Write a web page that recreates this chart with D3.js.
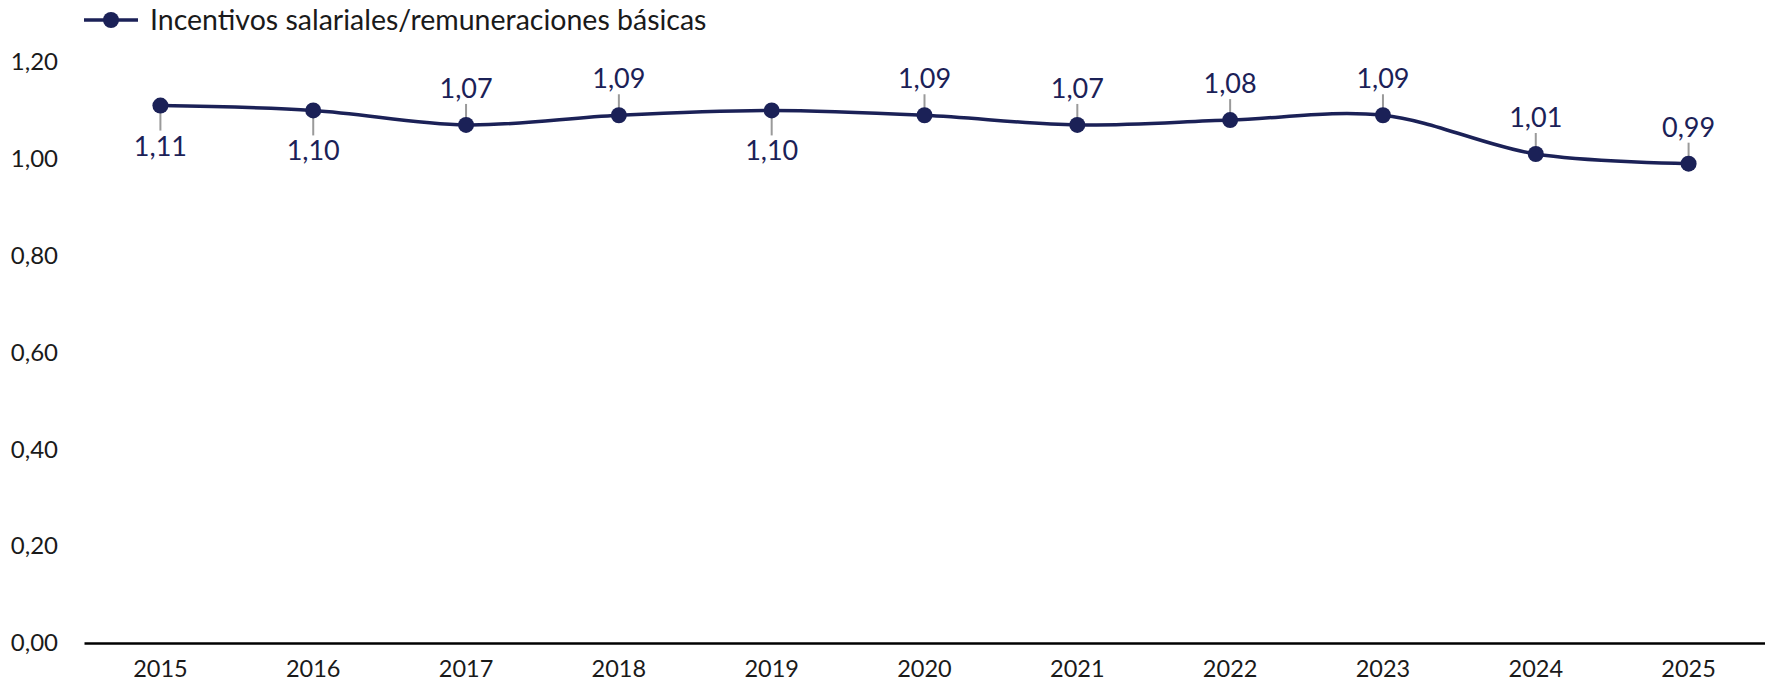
<!DOCTYPE html>
<html>
<head>
<meta charset="utf-8">
<script src="https://cdn.jsdelivr.net/npm/d3@7"></script>
<style>
  body { margin: 0; background: #fff; }
  text { font-family: Lato, "Open Sans", sans-serif; }
</style>
</head>
<body>
<div class="canvas"></div>
<script>
// chart data
const years = ['2015', '2016', '2017', '2018', '2019', '2020', '2021', '2022', '2023', '2024', '2025'];
const ratios = [1.11, 1.10, 1.07, 1.09, 1.10, 1.09, 1.07, 1.08, 1.09, 1.01, 0.99];
const labelBelow = [true, true, false, false, true, false, false, false, false, false, false];
const yTicks = [0, 0.2, 0.4, 0.6, 0.8, 1.0, 1.2];
const seriesName = 'Incentivos salariales/remuneraciones básicas';

const navy = '#1b2157';
const width = 1765, height = 684;
const margin = {top: 62, right: 0, bottom: 41, left: 84};
const graphWidth = width - margin.left - margin.right;
const graphHeight = height - margin.top - margin.bottom;

const svg = d3.select('.canvas')
  .append('svg')
    .attr('width', width)
    .attr('height', height);

const graph = svg.append('g')
  .attr('transform', `translate(${margin.left}, ${margin.top})`);

const x = d3.scaleBand()
  .domain(years)
  .range([0, graphWidth]);

const y = d3.scaleLinear()
  .domain([0, 1.2])
  .range([graphHeight, 0]);

const fmt = d => d3.format('.2f')(d).replace('.', ',');

// y axis labels (no line)
const yAxis = d3.axisLeft(y).tickValues(yTicks).tickFormat(fmt).tickSize(0).tickPadding(26);
const yAxisGroup = graph.append('g').call(yAxis);
yAxisGroup.select('.domain').remove();
yAxisGroup.selectAll('text')
  .attr('font-size', 24)
  .attr('fill', '#1a1a1a');

// x axis
const xAxis = d3.axisBottom(x).tickSize(0).tickPadding(17);
const xAxisGroup = graph.append('g')
  .attr('transform', `translate(0, ${graphHeight})`)
  .call(xAxis);
xAxisGroup.select('.domain')
  .attr('stroke', '#000')
  .attr('stroke-width', 2.6);
xAxisGroup.selectAll('text')
  .attr('font-size', 23.5)
  .attr('fill', '#1a1a1a');

const cx = d => x(d) + x.bandwidth() / 2;

// line
const line = d3.line()
  .x((d, i) => cx(years[i]))
  .y(d => y(d))
  .curve(d3.curveCatmullRom.alpha(0.5));

// leader lines
graph.selectAll('.leader')
  .data(ratios)
  .enter()
  .append('line')
    .attr('class', 'leader')
    .attr('x1', (d, i) => cx(years[i]))
    .attr('x2', (d, i) => cx(years[i]))
    .attr('y1', (d, i) => y(d) + (labelBelow[i] ? 4 : -4))
    .attr('y2', (d, i) => y(d) + (labelBelow[i] ? 25 : -21))
    .attr('stroke', '#9a9a9a')
    .attr('stroke-width', 2);

graph.append('path')
  .datum(ratios)
  .attr('fill', 'none')
  .attr('stroke', navy)
  .attr('stroke-width', 3.5)
  .attr('d', line);

graph.selectAll('circle')
  .data(ratios)
  .enter()
  .append('circle')
    .attr('cx', (d, i) => cx(years[i]))
    .attr('cy', d => y(d))
    .attr('r', 8)
    .attr('fill', navy);

// data labels
graph.selectAll('.dlabel')
  .data(ratios)
  .enter()
  .append('text')
    .attr('class', 'dlabel')
    .attr('x', (d, i) => cx(years[i]))
    .attr('y', (d, i) => y(d) + (labelBelow[i] ? 50 : -27))
    .attr('text-anchor', 'middle')
    .attr('font-size', 27)
    .attr('fill', navy)
    .text(fmt);

// legend
const legend = svg.append('g').attr('transform', 'translate(84, 20)');
legend.append('line')
  .attr('x1', 0).attr('x2', 54)
  .attr('stroke', navy).attr('stroke-width', 3.5);
legend.append('circle')
  .attr('cx', 27).attr('r', 8).attr('fill', navy);
legend.append('text')
  .attr('x', 66).attr('dy', '0.35em')
  .attr('font-size', 28.5)
  .attr('fill', '#1a1a1a')
  .text(seriesName);
</script>
</body>
</html>
